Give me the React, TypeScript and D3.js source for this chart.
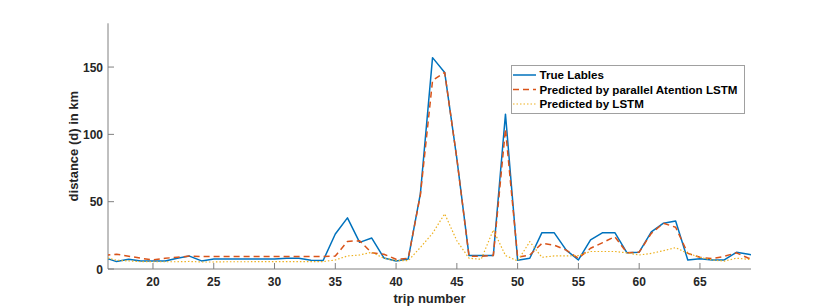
import React, { useEffect, useRef } from 'react';
import * as d3 from 'd3';

// trip numbers 16..70 (axis shows ~16.3 to ~69.2)
const trips = d3.range(16, 71);

const trueLabels = [
  8.5, 5.5, 7.2, 6, 6, 6, 8, 9.6, 6, 7.5,
  7.5, 7.5, 7.5, 7.5, 7.5, 8, 8, 6.5, 6.3, 26,
  38, 19.8, 23, 8.2, 6, 7.5, 56, 157, 146, 82,
  10, 10, 10, 115, 6.5, 8, 27, 27, 14, 6.7,
  21.6, 27, 27, 12, 12.5, 27.5, 34, 35.7, 6.7, 7.7,
  6.7, 6.7, 12.4, 11, 9,
];

const predAttention = [
  10.2, 11, 9.5, 8, 6.7, 8, 8.7, 9.6, 9.2, 9.2,
  9.2, 9.2, 9.2, 9.2, 9.2, 9.2, 9.2, 9.2, 9.2, 9.6,
  20.5, 21, 12, 11, 7.2, 8, 55, 140, 146, 82,
  9.5, 9.5, 10, 104, 8.7, 10.4, 19, 17.8, 14, 8,
  15.4, 19.6, 24, 12, 12.5, 26.5, 34, 31, 11.6, 8.7,
  7.7, 9.4, 12, 8, 7.5,
];

const predLstm = [
  8.8, 6.5, 6, 5.5, 5.4, 5.4, 5.4, 5.6, 5.2, 5.2,
  5.4, 5.4, 5.4, 5.5, 5.5, 5.5, 5.5, 5.5, 5.5, 6.7,
  9.7, 10.4, 12.4, 8, 6.2, 6.2, 16, 26.5, 41, 21,
  8, 7.2, 29, 10, 6, 20.3, 8.7, 9.7, 9.7, 10,
  13, 13, 13, 12, 10.4, 11.6, 13.6, 15.9, 11.6, 8.7,
  6.7, 5.9, 8, 7.2, 6.5,
];

const xTicks = [20, 25, 30, 35, 40, 45, 50, 55, 60, 65];
const yTicks = [0, 50, 100, 150];

const seriesNames = [
  'True Lables',
  'Predicted by parallel Atention LSTM',
  'Predicted by LSTM',
];
const seriesColors = ['#0072BD', '#D95319', '#EDB120'];
const seriesDash = [null, '6,4', '1.5,2'];
const seriesWidth = [1.5, 1.5, 1.2];

const App = () => {
  const svgRef = useRef(null);

  useEffect(() => {
    const svg = d3.select(svgRef.current);
    svg.selectAll('*').remove();

    const left = 108, right = 751, top = 23.3, bottom = 269;
    const font = 'Liberation Sans, Arial, Helvetica, sans-serif';
    const axisColor = '#808080';
    const textColor = '#262626';

    const x = d3.scaleLinear().domain([16.3, 69.2]).range([left, right]);
    const y = d3.scaleLinear().domain([0, 182.5]).range([bottom, top]);

    svg.append('rect').attr('width', 830).attr('height', 308).attr('fill', '#fff');

    svg.append('clipPath').attr('id', 'plotClip')
      .append('rect')
      .attr('x', left).attr('y', top)
      .attr('width', right - left).attr('height', bottom - top);

    // axes lines
    svg.append('line')
      .attr('x1', left).attr('x2', left).attr('y1', top).attr('y2', bottom)
      .attr('stroke', axisColor).attr('stroke-width', 1);
    svg.append('line')
      .attr('x1', left).attr('x2', right).attr('y1', bottom).attr('y2', bottom)
      .attr('stroke', axisColor).attr('stroke-width', 1);

    // x ticks (inward)
    const xt = svg.append('g');
    xTicks.forEach(t => {
      xt.append('line')
        .attr('x1', x(t)).attr('x2', x(t)).attr('y1', bottom).attr('y2', bottom - 6)
        .attr('stroke', axisColor);
      xt.append('text')
        .attr('x', x(t)).attr('y', bottom + 17)
        .attr('text-anchor', 'middle')
        .attr('font-family', font).attr('font-weight', 'bold').attr('font-size', 12)
        .attr('fill', textColor)
        .text(t);
    });

    // y ticks (inward)
    const yt = svg.append('g');
    yTicks.forEach(t => {
      yt.append('line')
        .attr('x1', left).attr('x2', left + 6).attr('y1', y(t)).attr('y2', y(t))
        .attr('stroke', axisColor);
      yt.append('text')
        .attr('x', left - 5).attr('y', y(t) + 4.5)
        .attr('text-anchor', 'end')
        .attr('font-family', font).attr('font-weight', 'bold').attr('font-size', 12)
        .attr('fill', textColor)
        .text(t);
    });

    // axis labels
    svg.append('text')
      .attr('x', (left + right) / 2).attr('y', 303)
      .attr('text-anchor', 'middle')
      .attr('font-family', font).attr('font-weight', 'bold').attr('font-size', 13)
      .attr('fill', textColor)
      .text('trip number');

    svg.append('text')
      .attr('transform', `translate(78,${(top + bottom) / 2}) rotate(-90)`)
      .attr('text-anchor', 'middle')
      .attr('font-family', font).attr('font-weight', 'bold').attr('font-size', 13)
      .attr('fill', textColor)
      .text('distance (d) in km');

    // lines
    const line = d3.line<number>()
      .x((d, i) => x(trips[i]))
      .y(d => y(d));

    const plot = svg.append('g').attr('clip-path', 'url(#plotClip)');
    [trueLabels, predAttention, predLstm].forEach((s, k) => {
      plot.append('path')
        .datum(s)
        .attr('d', line)
        .attr('fill', 'none')
        .attr('stroke', seriesColors[k])
        .attr('stroke-width', seriesWidth[k])
        .attr('stroke-dasharray', seriesDash[k])
        .attr('stroke-linejoin', 'round');
    });

    // legend
    const lg = svg.append('g');
    lg.append('rect')
      .attr('x', 511.5).attr('y', 65.5).attr('width', 233).attr('height', 48)
      .attr('fill', '#fff').attr('stroke', '#a0a0a0').attr('stroke-width', 1);
    seriesNames.forEach((name, k) => {
      const cy = 75 + k * 14.5;
      lg.append('line')
        .attr('x1', 513).attr('x2', 536).attr('y1', cy).attr('y2', cy)
        .attr('stroke', seriesColors[k])
        .attr('stroke-width', seriesWidth[k])
        .attr('stroke-dasharray', seriesDash[k]);
      lg.append('text')
        .attr('x', 539.5).attr('y', cy + 4.2)
        .attr('font-family', font).attr('font-weight', 'bold').attr('font-size', 11.6)
        .attr('fill', '#000')
        .text(name);
    });
  }, []);

  return (
    <svg ref={svgRef} width={830} height={308}
      style={{ position: 'absolute', left: 0, top: 0 }} />
  );
};

export default App;
